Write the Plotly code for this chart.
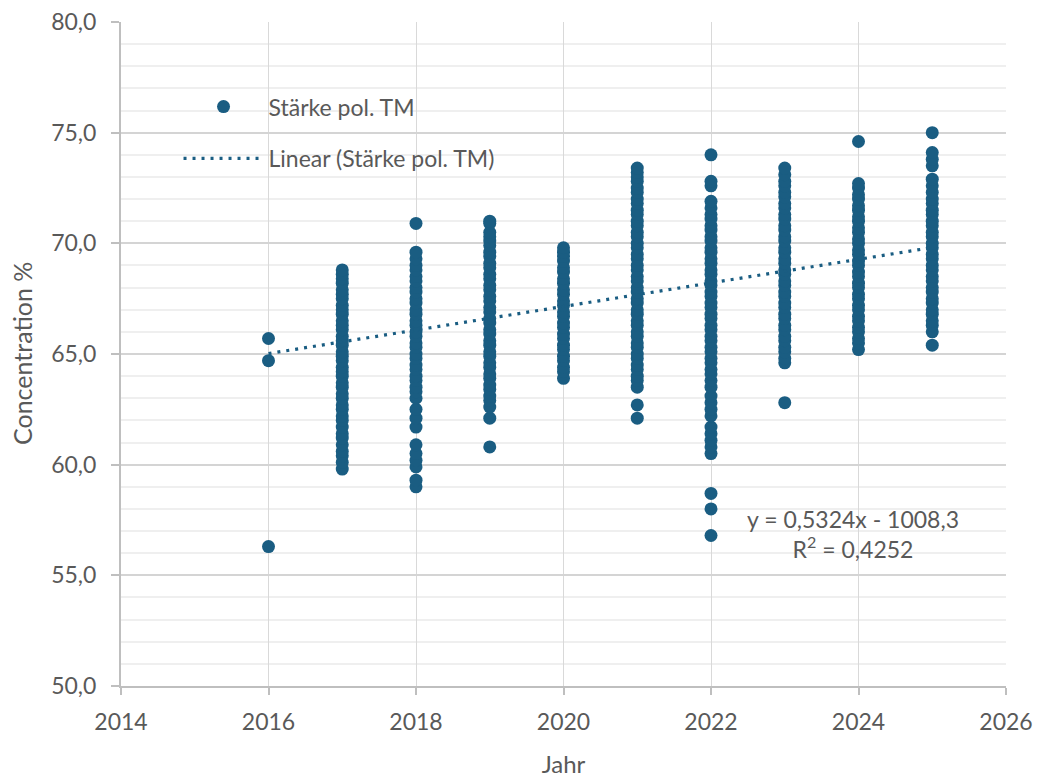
import plotly.graph_objects as go

# Measured dry-matter starch concentration (%) per year
years = [2016, 2017, 2018, 2019, 2020, 2021, 2022, 2023, 2024, 2025]

conc_2016 = [65.7, 64.7, 56.3]
conc_2017 = [59.8, 60.1, 60.4, 60.6, 60.9, 61.2, 61.4, 61.7, 62.0, 62.2, 62.5, 62.7,
             63.0, 63.2, 63.5, 63.7, 64.0, 64.2, 64.4, 64.7, 64.9, 65.1, 65.4, 65.6,
             65.8, 66.1, 66.3, 66.5, 66.8, 67.0, 67.2, 67.5, 67.7, 67.9, 68.2, 68.4,
             68.6, 68.8]
conc_2018 = [59.0, 59.3, 59.9, 60.2, 60.5, 60.9, 61.7, 62.1, 62.5, 63.0, 63.3, 63.5,
             63.8, 64.0, 64.3, 64.5, 64.8, 65.0, 65.3, 65.5, 65.8, 66.0, 66.3, 66.5,
             66.8, 67.0, 67.3, 67.5, 67.8, 68.0, 68.3, 68.5, 68.8, 69.0, 69.3, 69.6,
             70.9]
conc_2019 = [60.8, 62.1, 62.6, 62.9, 63.1, 63.4, 63.6, 63.9, 64.1, 64.4, 64.6, 64.9,
             65.1, 65.4, 65.6, 65.9, 66.1, 66.4, 66.6, 66.9, 67.1, 67.4, 67.6, 67.9,
             68.1, 68.4, 68.6, 68.9, 69.1, 69.4, 69.6, 69.9, 70.1, 70.3, 70.5, 70.9,
             71.0]
conc_2020 = [63.9, 64.2, 64.4, 64.7, 64.9, 65.2, 65.4, 65.7, 65.9, 66.2, 66.4, 66.7,
             66.9, 67.2, 67.4, 67.7, 67.9, 68.2, 68.4, 68.7, 68.9, 69.2, 69.4, 69.6,
             69.8]
conc_2021 = [62.1, 62.7, 63.5, 63.8, 64.0, 64.3, 64.5, 64.8, 65.0, 65.3, 65.5, 65.8,
             66.0, 66.3, 66.5, 66.8, 67.0, 67.3, 67.5, 67.8, 68.0, 68.3, 68.5, 68.8,
             69.0, 69.3, 69.5, 69.8, 70.0, 70.3, 70.5, 70.8, 71.0, 71.3, 71.5, 71.8,
             72.0, 72.3, 72.5, 72.8, 73.0, 73.2, 73.4]
conc_2022 = [56.8, 58.0, 58.7, 60.5, 60.8, 61.1, 61.4, 61.7, 62.2, 62.5, 62.8, 63.1,
             63.5, 63.8, 64.1, 64.3, 64.6, 64.8, 65.1, 65.3, 65.6, 65.8, 66.1, 66.3,
             66.6, 66.8, 67.1, 67.3, 67.6, 67.8, 68.1, 68.3, 68.6, 68.8, 69.1, 69.3,
             69.6, 69.8, 70.1, 70.3, 70.6, 70.8, 71.1, 71.3, 71.6, 71.9, 72.6, 72.8,
             74.0]
conc_2023 = [62.8, 64.6, 64.8, 65.1, 65.3, 65.6, 65.8, 66.1, 66.3, 66.6, 66.8, 67.1,
             67.3, 67.6, 67.8, 68.1, 68.3, 68.6, 68.8, 69.1, 69.3, 69.6, 69.8, 70.1,
             70.3, 70.6, 70.8, 71.1, 71.3, 71.6, 71.8, 72.1, 72.3, 72.6, 72.8, 73.1,
             73.4]
conc_2024 = [65.2, 65.5, 65.7, 66.0, 66.2, 66.5, 66.7, 67.0, 67.2, 67.5, 67.7, 68.0,
             68.2, 68.5, 68.7, 69.0, 69.2, 69.5, 69.7, 70.0, 70.2, 70.5, 70.7, 71.0,
             71.2, 71.5, 71.7, 72.0, 72.2, 72.5, 72.7, 74.6]
conc_2025 = [65.4, 66.0, 66.3, 66.5, 66.8, 67.0, 67.3, 67.5, 67.8, 68.0, 68.3, 68.5,
             68.8, 69.0, 69.3, 69.5, 69.8, 70.0, 70.3, 70.5, 70.8, 71.0, 71.3, 71.5,
             71.8, 72.0, 72.3, 72.6, 72.9, 73.5, 73.8, 74.1, 75.0]

# Linear trend as reported: y = 0,5324x - 1008,3 ; R² = 0,4252
trend_slope = 0.5324
trend_intercept = -1008.3
trend_r2 = 0.4252

series_name = "Stärke pol. TM"
x_tick_labels = ["2014", "2016", "2018", "2020", "2022", "2024", "2026"]

per_year = [conc_2016, conc_2017, conc_2018, conc_2019, conc_2020,
            conc_2021, conc_2022, conc_2023, conc_2024, conc_2025]
xs, ys = [], []
for yr, vals in zip(years, per_year):
    xs.extend([yr] * len(vals))
    ys.extend(vals)

BLUE = "#1a5d82"
TEXT = "#595959"
FONT = "Lato, 'Open Sans', sans-serif"

fig = go.Figure()
fig.add_trace(go.Scatter(
    x=xs, y=ys, mode="markers", name=series_name, legendgroup="a",
    marker=dict(color=BLUE, size=13, line=dict(width=0)),
))
tx = [years[0], years[-1]]
ty = [trend_slope * v + trend_intercept for v in tx]
fig.add_trace(go.Scatter(
    x=tx, y=ty, mode="lines", name=f"Linear ({series_name})", legendgroup="b",
    line=dict(color=BLUE, width=3.2, dash="3px,6px"),
))

eq_text = (f"y = {trend_slope:.4f}x - {abs(trend_intercept):.1f}".replace(".", ",")
           + "<br>R<sup>2</sup> = " + f"{trend_r2:.4f}".replace(".", ","))
fig.add_annotation(
    x=2023.93, y=56.85, xref="x", yref="y", text=eq_text, showarrow=False,
    font=dict(family=FONT, size=23, color=TEXT), align="center",
)

# Vertical axis title
fig.add_annotation(
    x=22, y=0.5, xref="paper", yref="paper", text="Concentration %",
    showarrow=False, textangle=-90, xanchor="center", yanchor="middle",
    font=dict(family=FONT, size=25, color=TEXT),
)
fig.update_annotations(selector=dict(text="Concentration %"), x=(22 - 121) / 885)

fig.update_layout(
    width=1041, height=778,
    margin=dict(l=121, r=35, t=22, b=92, autoexpand=False),
    paper_bgcolor="white", plot_bgcolor="white",
    separators=",.",
    font=dict(family=FONT, size=20, color=TEXT),
    showlegend=True,
    legend=dict(
        x=0.065, y=0.905, xanchor="left", yanchor="top",
        bgcolor="rgba(0,0,0,0)", itemwidth=80, tracegroupgap=19,
        font=dict(family=FONT, size=23, color=TEXT),
    ),
    xaxis=dict(
        range=[2014, 2026], tickvals=[int(t) for t in x_tick_labels],
        ticktext=x_tick_labels, automargin=False,
        showgrid=True, gridcolor="#d9d9d9", gridwidth=1,
        showline=True, linecolor="#bfbfbf", linewidth=2,
        ticks="outside", ticklen=7, tickcolor="#bfbfbf", tickwidth=1.5,
        ticklabelstandoff=7,
        tickfont=dict(family=FONT, size=23, color=TEXT),
        title=dict(text="Jahr", font=dict(family=FONT, size=24, color=TEXT), standoff=24),
        zeroline=False,
    ),
    yaxis=dict(
        range=[50, 80], dtick=5, tickformat=".1f", automargin=False,
        showgrid=True, gridcolor="#d4d4d4", gridwidth=2,
        minor=dict(dtick=1, showgrid=True, gridcolor="#efefef", gridwidth=2),
        showline=True, linecolor="#bfbfbf", linewidth=2,
        ticks="outside", ticklen=8, tickcolor="#bfbfbf", tickwidth=1.5,
        ticklabelstandoff=10,
        tickfont=dict(family=FONT, size=23, color=TEXT),
        zeroline=False,
    ),
)

fig.write_html("out.html")
